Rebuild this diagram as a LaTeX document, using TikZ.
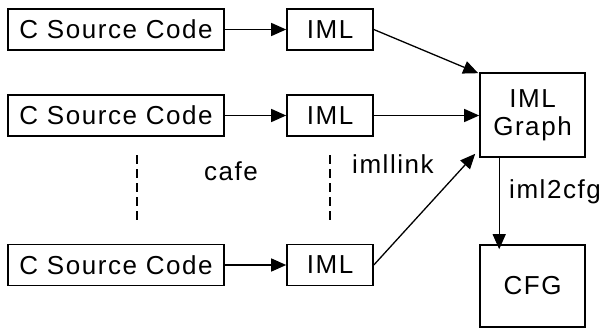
\documentclass[tikz,border=0pt]{standalone}
\usepackage{fontspec}
\setmainfont{Liberation Sans}[LetterSpace=6]
\usetikzlibrary{arrows.meta,positioning}
\begin{document}
\begin{tikzpicture}[x=1pt,y=-1pt,
  box/.style={draw,line width=1.6pt,minimum height=41pt,inner sep=0pt,font=\fontsize{26}{30}\selectfont},
  lbl/.style={font=\fontsize{26}{30}\selectfont,inner sep=0pt},
  arr/.style={line width=1.3pt,-{Triangle[length=15pt,width=13pt]}},
  dsh/.style={line width=1.3pt,dash pattern=on 9pt off 5pt}]
\useasboundingbox (0,0) rectangle (600,329);
\node[box,minimum width=216pt] (c1) at (116,29.5) {C Source Code};
\node[box,minimum width=216pt] (c2) at (116,115.5) {C Source Code};
\node[box,minimum width=216pt] (c3) at (116,265) {C Source Code};
\node[box,minimum width=86pt] (i1) at (330,29.5) {IML};
\node[box,minimum width=86pt] (i2) at (330,115.5) {IML};
\node[box,minimum width=86pt] (i3) at (330,265) {IML};
\node[box,minimum width=105pt,minimum height=84pt,align=center,font=\fontsize{26}{28}\selectfont] (g) at (532.5,115) {IML\\Graph};
\node[box,minimum width=105pt,minimum height=82pt] (cfg) at (532.5,286) {CFG};
\draw[arr] (c1) -- (i1);
\draw[arr] (c2) -- (i2);
\draw[arr] (c3) -- (i3);
\draw[arr] (i1.east) -- ([xshift=-1pt,yshift=-1pt]g.north west);
\draw[arr] (i2.east) -- (g.west |- i2.east);
\draw[arr] (i3.east) -- ([xshift=-4pt,yshift=4pt]g.south west);
\draw[arr] ([xshift=20pt]g.south west) -- ([xshift=20pt,yshift=-5pt]cfg.north west);
\coordinate (d1a) at (137,155);
\coordinate (d1b) at (137,223);
\coordinate (d2a) at (330,155);
\coordinate (d2b) at (330,223);
\draw[dsh] (d1a) -- (d1b);
\draw[dsh] (d2a) -- (d2b);
\node[lbl] (cafe) at (231,171) {cafe};
\node[lbl] (link) at (393,164) {imllink};
\node[lbl,anchor=west] (i2c) at (509,192) {iml2cfg};
\end{tikzpicture}
\end{document}
